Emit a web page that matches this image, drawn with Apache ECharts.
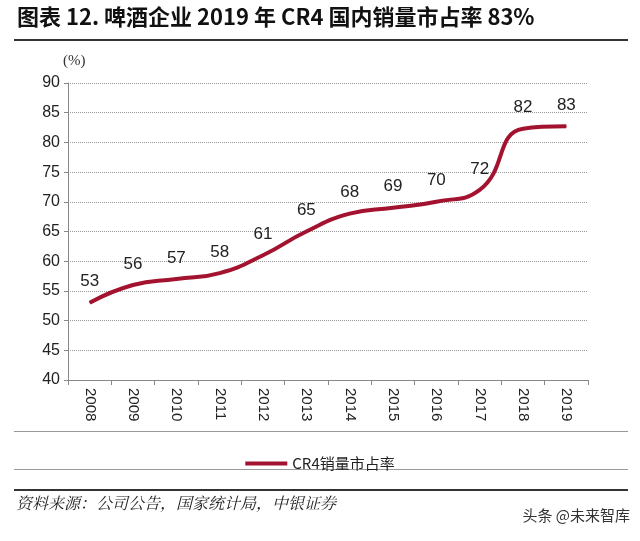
<!DOCTYPE html>
<html>
<head>
<meta charset="utf-8">
<script src="https://cdn.jsdelivr.net/npm/echarts@6/dist/echarts.min.js"></script>
<style>
html, body { margin: 0; padding: 0; background: #fff; }
#main { width: 640px; height: 541px; }
</style>
</head>
<body>
<div id="main"></div>
<script>
// 数据
var years = ['2008', '2009', '2010', '2011', '2012', '2013', '2014', '2015', '2016', '2017', '2018', '2019'];
var cr4Share = [53, 56, 57, 58, 61, 65, 68, 69, 70, 72, 82.3, 82.7];
var seriesName = 'CR4销量市占率';

var lineColor = '#a3122e';
var myChart = echarts.init(document.getElementById('main'));

var option = {
    animation: false,
    grid: { left: 68, right: 52, top: 83, bottom: 161 },
    graphic: [
        // 标题
        { type: 'text', left: 17, top: 6, style: { text: '图表 12. 啤酒企业 2019 年 CR4 国内销量市占率 83%', fontSize: 22, fontWeight: 'bold', fill: '#111', fontFamily: '"Noto Sans CJK SC", sans-serif' } },
        { type: 'rect', shape: { x: 14, y: 39, width: 614, height: 2 }, style: { fill: '#333' } },
        { type: 'text', left: 63, top: 54, style: { text: '(%)', fontSize: 15, fill: '#333', fontFamily: '"Liberation Serif", serif' } },
        // 图例框线
        { type: 'rect', shape: { x: 14, y: 431, width: 614, height: 1 }, style: { fill: '#999' } },
        { type: 'rect', shape: { x: 14, y: 469, width: 614, height: 1 }, style: { fill: '#999' } },
        // 底部来源
        { type: 'rect', shape: { x: 14, y: 489, width: 614, height: 2 }, style: { fill: '#333' } },
        { type: 'text', left: 16, top: 495, style: { text: '资料来源：公司公告，国家统计局，中银证券', fontSize: 16, fontStyle: 'italic', fill: '#222', fontFamily: '"Noto Serif CJK SC", "Noto Sans CJK SC", serif' } },
        { type: 'text', right: 10, top: 508, style: { text: '头条 @未来智库', fontSize: 15, fill: '#333', fontFamily: '"Noto Sans CJK SC", sans-serif' } }
    ],
    legend: {
        top: 451,
        left: 'center',
        data: [seriesName],
        itemWidth: 42,
        itemHeight: 4,
        itemGap: 4,
        icon: 'rect',
        textStyle: { fontSize: 15, color: '#222', fontFamily: '"Noto Sans CJK SC", sans-serif' }
    },
    xAxis: {
        type: 'category',
        data: years,
        boundaryGap: true,
        axisLine: { lineStyle: { color: '#888', width: 1 } },
        axisTick: { show: true, alignWithLabel: false, length: 5, lineStyle: { color: '#888' } },
        axisLabel: { rotate: -90, fontSize: 15, color: '#222', margin: 8, fontFamily: '"Liberation Sans", Arial, sans-serif' }
    },
    yAxis: {
        type: 'value',
        min: 40,
        max: 90,
        interval: 5,
        axisLine: { show: true, lineStyle: { color: '#888' } },
        axisTick: { show: true, length: 4, lineStyle: { color: '#888' } },
        axisLabel: { fontSize: 16, color: '#222', margin: 8, fontFamily: '"Liberation Sans", Arial, sans-serif' },
        splitLine: { show: true, lineStyle: { color: '#999', type: 'dotted', width: 1 } }
    },
    series: [
        {
            name: seriesName,
            type: 'line',
            data: cr4Share,
            smooth: 0.5,
            showSymbol: true,
            symbol: 'circle',
            symbolSize: 1,
            lineStyle: { color: lineColor, width: 4 },
            itemStyle: { color: lineColor },
            label: {
                show: true,
                position: 'top',
                distance: 12,
                fontSize: 17,
                color: '#222',
                fontFamily: '"Liberation Sans", Arial, sans-serif',
                formatter: function (p) { return Math.round(p.value); }
            }
        }
    ]
};

myChart.setOption(option);
</script>
</body>
</html>
